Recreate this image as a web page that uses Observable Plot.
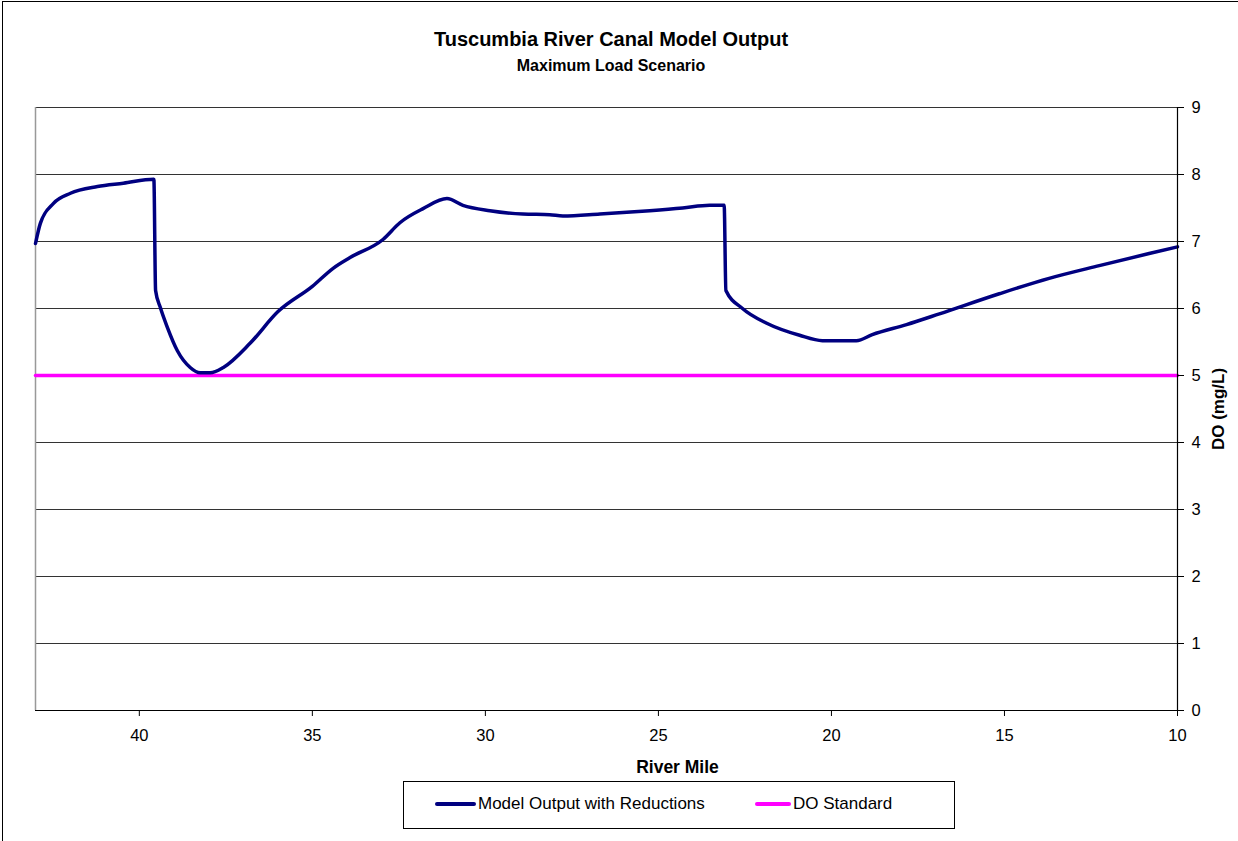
<!DOCTYPE html>
<html>
<head>
<meta charset="utf-8">
<script src="https://cdn.jsdelivr.net/npm/d3@7"></script>
<script src="https://cdn.jsdelivr.net/npm/@observablehq/plot@0.6"></script>
<style>
  html, body { margin: 0; padding: 0; background: #fff; }
  body { font-family: "Liberation Sans", Arial, sans-serif; color: #000; }
  #wrap { position: relative; width: 1238px; height: 841px; overflow: hidden; }
  #frame { position: absolute; left: 2px; top: 1px; width: 1400px; height: 1000px;
           border-left: 1.5px solid #000; border-top: 1.5px solid #000; pointer-events: none; }
  #head { position: relative; height: 90px; }
  #title { position: absolute; left: 0; width: 1222px; top: 28px; text-align: center;
           font-weight: bold; font-size: 20px; }
  #subtitle { position: absolute; left: 0; width: 1222px; top: 57px; text-align: center;
              font-weight: bold; font-size: 16px; }
  #chart svg { display: block; }
  #legend { position: relative; margin-left: 403px; margin-top: 1px; width: 552px; height: 48px;
            box-sizing: border-box; border: 1px solid #000; }
  .item { position: absolute; top: 12px; font-size: 17px; white-space: nowrap; }
  .swatch { display: inline-block; width: 41px; height: 4px; vertical-align: middle;
            margin-right: 2px; position: relative; top: -1px; border-radius: 2px; }
</style>
</head>
<body>
<div id="wrap">
  <div id="frame"></div>
  <div id="head">
    <div id="title">Tuscumbia River Canal Model Output</div>
    <div id="subtitle">Maximum Load Scenario</div>
  </div>
  <div id="chart"></div>
  <div id="legend"></div>
</div>
<script>
// ---- data ----
const riverMile = [43.0, 42.86, 42.48, 41.99, 41.21, 40.46, 39.58, 39.53, 39.39, 39.19, 38.90, 38.53, 38.24,
  37.95, 37.57, 36.80, 36.0, 35.0, 34.40, 33.91, 32.96, 32.47, 31.80, 31.11, 30.65, 29.87, 28.92, 28.14,
  27.76, 26.69, 25.25, 24.30, 23.52, 23.10, 23.05, 22.57, 21.87, 20.92, 20.26, 19.28, 18.82, 17.83, 16.88,
  15.15, 13.71, 12.26, 10.82, 10.0];
const doModel = [6.97, 7.27, 7.57, 7.72, 7.82, 7.87, 7.93, 6.27, 6.01, 5.72, 5.37, 5.12, 5.04,
  5.04, 5.12, 5.48, 5.95, 6.33, 6.60, 6.76, 7.03, 7.28, 7.49, 7.64, 7.54, 7.46, 7.41, 7.40,
  7.38, 7.41, 7.46, 7.50, 7.54, 7.54, 6.27, 6.00, 5.78, 5.60, 5.52, 5.52, 5.61, 5.76, 5.92,
  6.22, 6.45, 6.64, 6.82, 6.92];
const doStandard = 5;
const seriesNames = ["Model Output with Reductions", "DO Standard"];
const seriesColors = ["#000080", "#FF00FF"];
const xTicks = [40, 35, 30, 25, 20, 15, 10];
const yTicks = [0, 1, 2, 3, 4, 5, 6, 7, 8, 9];
const xDomain = [43, 10];
const yDomain = [0, 9];
const xLabel = "River Mile";
const yLabel = "DO (mg/L)";

const model = riverMile.map((m, i) => ({mile: m, value: doModel[i]}));
const standard = xDomain.map(m => ({mile: m, value: doStandard}));

const chart = Plot.plot({
  width: 1238,
  height: 690,
  marginTop: 17,
  marginBottom: 70,
  marginLeft: 35,
  marginRight: 61,
  style: {fontFamily: '"Liberation Sans", Arial, sans-serif', fontSize: "16px", color: "#000", background: "#fff"},
  x: {domain: xDomain, label: null},
  y: {domain: yDomain, label: null},
  marks: [
    Plot.ruleY(yTicks.filter(d => d > 0), {stroke: "#333", strokeWidth: 1}),
    Plot.ruleX([xDomain[0]], {stroke: "#999", strokeWidth: 1.5}),
    Plot.line(standard, {x: "mile", y: "value", stroke: seriesColors[1], strokeWidth: 3.5}),
    Plot.line(model, {x: "mile", y: "value", stroke: seriesColors[0], strokeWidth: 3.5, curve: "monotone-x"}),
    Plot.ruleY([0], {stroke: "#000", strokeWidth: 1.2}),
    Plot.ruleX([xDomain[1]], {stroke: "#000", strokeWidth: 1.2}),
    Plot.axisX(xTicks, {anchor: "bottom", tickSize: 6, tickPadding: 13, label: null, fontSize: 16.5,
      tickFormat: d => String(d), stroke: "#000"}),
    Plot.axisY(yTicks, {anchor: "right", tickSize: 6, tickPadding: 8, label: null, fontSize: 16.5,
      tickFormat: d => String(d), stroke: "#000"}),
    Plot.text([xLabel], {frameAnchor: "bottom", dx: 71, dy: 57, textAnchor: "middle", lineAnchor: "middle",
      fontWeight: "bold", fontSize: 17.5, fill: "#000"}),
    Plot.text([yLabel], {frameAnchor: "right", dx: 41, rotate: -90, textAnchor: "middle", lineAnchor: "middle",
      fontWeight: "bold", fontSize: 17, fill: "#000"})
  ]
});
document.getElementById("chart").appendChild(chart);

// legend
const legend = document.getElementById("legend");
const positions = [31, 351];
seriesNames.forEach((name, i) => {
  const item = document.createElement("div");
  item.className = "item";
  item.style.left = positions[i] + "px";
  const sw = document.createElement("span");
  sw.className = "swatch";
  sw.style.background = seriesColors[i];
  if (i === 1) sw.style.width = "36px";
  item.appendChild(sw);
  item.appendChild(document.createTextNode(name));
  legend.appendChild(item);
});
</script>
</body>
</html>
